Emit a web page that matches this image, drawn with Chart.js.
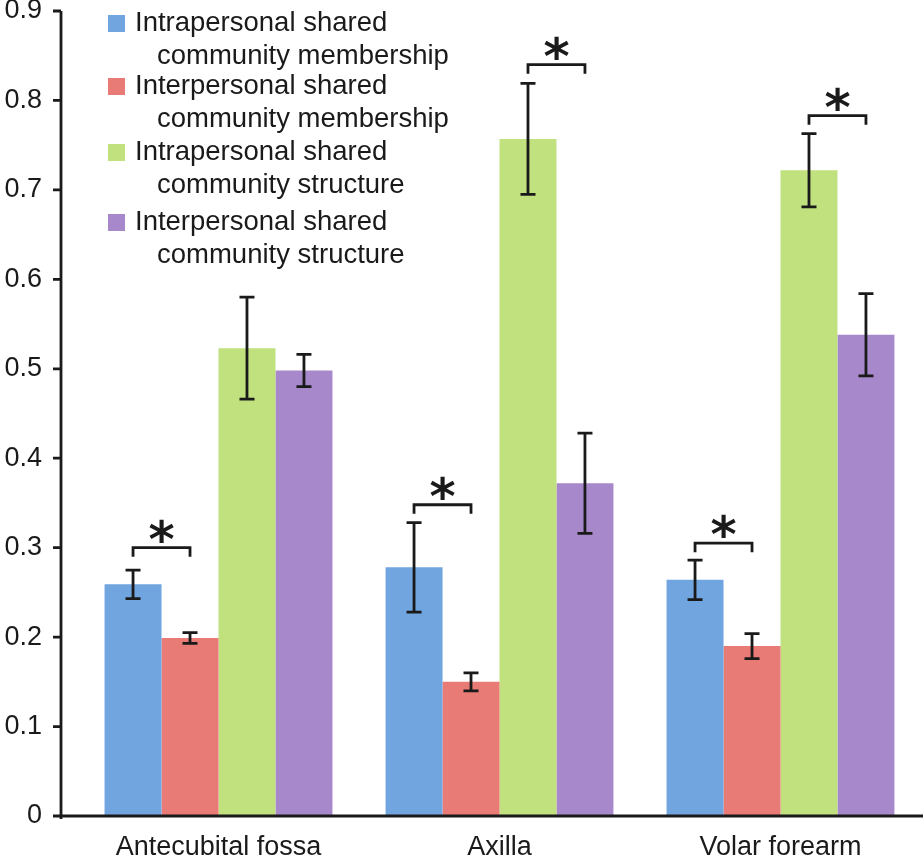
<!DOCTYPE html>
<html>
<head>
<meta charset="utf-8">
<script src="https://cdn.jsdelivr.net/npm/chart.js@4.4.1/dist/chart.umd.min.js"></script>
<style>
  html, body { margin: 0; padding: 0; background: #fff; }
  canvas { display: block; }
</style>
</head>
<body>
<canvas id="myChart" width="923" height="860"></canvas>
<script>
// values
const categories = ['Antecubital fossa', 'Axilla', 'Volar forearm'];
const seriesNames = [
  ['Intrapersonal shared', 'community membership'],
  ['Interpersonal shared', 'community membership'],
  ['Intrapersonal shared', 'community structure'],
  ['Interpersonal shared', 'community structure']
];
const intraMembership = [0.259, 0.278, 0.264];
const interMembership = [0.199, 0.150, 0.190];
const intraStructure = [0.523, 0.757, 0.722];
const interStructure = [0.498, 0.372, 0.538];
const intraMembershipErr = [0.016, 0.050, 0.022];
const interMembershipErr = [0.006, 0.010, 0.014];
const intraStructureErr = [0.057, 0.062, 0.041];
const interStructureErr = [0.018, 0.056, 0.046];
const yTicks = [0, 0.1, 0.2, 0.3, 0.4, 0.5, 0.6, 0.7, 0.8, 0.9];
// [category, series a, series b, bracket height]
const brackets = [
  [0, 0, 1, 0.300],
  [1, 0, 1, 0.348],
  [1, 2, 3, 0.840],
  [2, 0, 1, 0.305],
  [2, 2, 3, 0.783]
];

const colors = ['#70a5e0', '#e87b76', '#c1e07e', '#a789cb'];
const ink = '#1a1a1a';
const fontFamily = "'Liberation Sans', Arial, Helvetica, sans-serif";
const errors = [intraMembershipErr, interMembershipErr, intraStructureErr, interStructureErr];

const extras = {
  id: 'extras',
  afterDraw(chart) {
    const ctx = chart.ctx;
    const y = chart.scales.y;
    const area = chart.chartArea;
    ctx.save();
    ctx.strokeStyle = ink;
    ctx.fillStyle = ink;
    ctx.lineWidth = 2.8;
    ctx.lineCap = 'butt';

    // axes
    const axisX = area.left - 17;
    ctx.beginPath();
    ctx.moveTo(axisX, y.getPixelForValue(0.9));
    ctx.lineTo(axisX, area.bottom + 3);
    ctx.moveTo(axisX - 8, area.bottom);
    ctx.lineTo(chart.width, area.bottom);
    yTicks.forEach(t => {
      const py = y.getPixelForValue(t);
      ctx.moveTo(axisX - 8, py);
      ctx.lineTo(axisX, py);
    });
    ctx.stroke();

    // error bars
    errors.forEach((errs, di) => {
      const meta = chart.getDatasetMeta(di);
      const vals = chart.data.datasets[di].data;
      meta.data.forEach((bar, i) => {
        const top = y.getPixelForValue(vals[i] + errs[i]);
        const bot = y.getPixelForValue(vals[i] - errs[i]);
        ctx.beginPath();
        ctx.moveTo(bar.x, top);
        ctx.lineTo(bar.x, bot);
        ctx.moveTo(bar.x - 7.5, top);
        ctx.lineTo(bar.x + 7.5, top);
        ctx.moveTo(bar.x - 7.5, bot);
        ctx.lineTo(bar.x + 7.5, bot);
        ctx.stroke();
      });
    });

    // significance brackets
    ctx.font = 'bold 50px "DejaVu Sans", sans-serif';
    ctx.textAlign = 'center';
    ctx.textBaseline = 'middle';
    brackets.forEach(([ci, a, b, h]) => {
      const xa = chart.getDatasetMeta(a).data[ci].x;
      const xb = chart.getDatasetMeta(b).data[ci].x;
      const py = y.getPixelForValue(h);
      ctx.beginPath();
      ctx.moveTo(xa, py + 9);
      ctx.lineTo(xa, py);
      ctx.lineTo(xb, py);
      ctx.lineTo(xb, py + 9);
      ctx.stroke();
      ctx.fillText('*', (xa + xb) / 2, py - 4);
    });

    // legend
    const entryY = [23, 86, 152, 222];
    ctx.font = '27.5px ' + fontFamily;
    ctx.textAlign = 'left';
    seriesNames.forEach((lines, i) => {
      const cy = entryY[i];
      ctx.fillStyle = colors[i];
      ctx.fillRect(108, cy - 8, 17, 17);
      ctx.fillStyle = ink;
      ctx.fillText(lines[0], 135, cy);
      ctx.fillText(lines[1], 157, cy + 33);
    });
    ctx.restore();
  }
};

const ctx = document.getElementById('myChart').getContext('2d');
new Chart(ctx, {
  type: 'bar',
  data: {
    labels: categories,
    datasets: [intraMembership, interMembership, intraStructure, interStructure].map((d, i) => ({
      label: seriesNames[i].join(' '),
      data: d,
      backgroundColor: colors[i],
      borderWidth: 0,
      barPercentage: 1,
      categoryPercentage: 0.811
    }))
  },
  options: {
    responsive: false,
    animation: false,
    layout: { padding: { top: 0, right: 2, bottom: 0, left: 0 } },
    plugins: { legend: { display: false }, tooltip: { enabled: false } },
    scales: {
      x: {
        grid: { display: false, drawTicks: false },
        border: { display: false },
        ticks: { color: ink, padding: 15, font: { family: fontFamily, size: 27 } },
        afterFit: s => { s.height = 44; }
      },
      y: {
        min: 0,
        max: 0.9,
        grid: { display: false, drawTicks: false },
        border: { display: false },
        ticks: {
          stepSize: 0.1,
          color: ink,
          padding: 36,
          font: { family: fontFamily, size: 27 },
          callback: v => v === 0 ? '0' : v.toFixed(1)
        },
        afterFit: s => {
          s.width = 78;
          s.paddingTop = 11;
          s.paddingBottom = 0;
        }
      }
    }
  },
  plugins: [extras]
});
</script>
</body>
</html>
